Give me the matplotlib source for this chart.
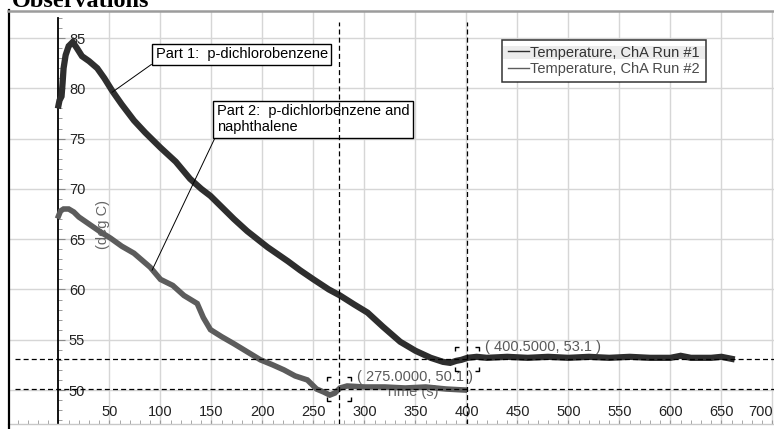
import matplotlib
matplotlib.use("Agg")
import matplotlib.pyplot as plt
from matplotlib.lines import Line2D
from matplotlib.patches import Rectangle
from matplotlib.path import Path
from matplotlib.ticker import MultipleLocator

plt.rcParams['font.family'] = ['Liberation Sans', 'DejaVu Sans']

# ---------------- data ----------------
run1_time = [0, 1, 3, 4, 5, 7, 10, 14, 18, 23, 30, 38, 45, 53, 62, 74, 85, 100,
             115, 129, 140, 149, 160, 172, 185, 205, 225, 237, 250, 265, 276, 290,
             303, 318, 335, 350, 365, 377, 384, 390, 395, 401, 410, 420, 440, 460,
             480, 500, 520, 540, 560, 580, 600, 610, 620, 640, 650, 660]
run1_temp = [78.3, 78.8, 79.2, 80.5, 82.0, 83.3, 84.2, 84.6, 84.0, 83.2, 82.7, 82.0,
             81.0, 79.7, 78.4, 76.8, 75.6, 74.1, 72.7, 71.0, 70.0, 69.3, 68.2, 67.0,
             65.8, 64.2, 62.8, 61.9, 61.0, 60.0, 59.4, 58.5, 57.7, 56.3, 54.8, 53.9,
             53.2, 52.8, 52.7, 52.9, 53.0, 53.2, 53.3, 53.2, 53.3, 53.2, 53.3, 53.2,
             53.3, 53.2, 53.3, 53.2, 53.2, 53.4, 53.2, 53.2, 53.3, 53.1]

run2_time = [0, 2, 5, 10, 15, 20, 30, 40, 51, 62, 74, 90, 100, 112, 123, 136, 142,
             149, 160, 172, 185, 198, 210, 221, 232, 244, 253, 260, 266, 271, 276,
             283, 300, 320, 340, 360, 380, 398]
run2_temp = [67.3, 67.8, 68.0, 68.0, 67.7, 67.2, 66.5, 65.8, 65.1, 64.3, 63.6, 62.2,
             61.0, 60.4, 59.4, 58.6, 57.2, 56.0, 55.3, 54.6, 53.8, 53.0, 52.5, 52.0,
             51.4, 51.0, 50.1, 49.8, 49.5, 49.7, 50.2, 50.4, 50.3, 50.3, 50.2, 50.3,
             50.1, 50.0]

series_labels = ["Temperature, ChA Run #1", "Temperature, ChA Run #2"]

xticks = [50, 100, 150, 200, 250, 300, 350, 400, 450, 500, 550, 600, 650, 700]
yticks = [50, 55, 60, 65, 70, 75, 80, 85]

cursor_points = [(275.0, 50.1), (400.5, 53.1)]
cursor_labels = ["( 275.0000, 50.1 )", "( 400.5000, 53.1 )"]

part1_text = "Part 1:  p-dichlorobenzene"
part1_xy = (52.5, 79.6)
part1_textpos = (95.2, 82.67)
part2_text = "Part 2:  p-dichlorbenzene and\nnaphthalene"
part2_xy = (91.7, 61.9)
part2_textpos = (155.0, 75.41)

title_text = "Observations"
x_label = "Time (s)"
y_label = "(deg C)"

# ---------------- figure ----------------
W, H = 774, 429
fig = plt.figure(figsize=(W / 100, H / 100), dpi=100)
ax = fig.add_axes([8 / W, 5 / H, 766 / W, 412 / H])
ax.set_xlim(-49.5, 701.5)
ax.set_ylim(46.62, 87.59)

FS = 10.5
c1 = '#2e2e2e'
c2 = '#5c5c5c'

# grid
ax.grid(True, which='major', color='#d6d6d6', lw=1.0, zorder=0)
ax.set_axisbelow(True)

# spines
ax.spines['top'].set_visible(False)
ax.spines['right'].set_visible(False)
ax.spines['left'].set_position(('data', 0))
ax.spines['left'].set_bounds(46.62, 87.0)
ax.spines['left'].set_color('black')
ax.spines['left'].set_linewidth(1.3)
ax.spines['bottom'].set_color('#c8c8c8')
ax.spines['bottom'].set_linewidth(1.0)

# ticks
ax.set_xticks(xticks)
ax.set_xticklabels([str(v) for v in xticks])
ax.xaxis.set_minor_locator(MultipleLocator(10))
ax.set_yticks(yticks)
ax.set_yticklabels([str(v) for v in yticks])
ax.yaxis.set_minor_locator(MultipleLocator(1))
ax.tick_params(axis='x', which='both', direction='in', length=3, color='#9a9a9a',
               labelsize=FS, pad=-14, labelcolor='#222222')
ax.tick_params(axis='y', which='major', direction='in', length=5, color='#8a8a8a',
               labelsize=FS, pad=-7.5, labelcolor='#222222')
ax.tick_params(axis='y', which='minor', direction='in', length=3, color='#8a8a8a')
for lab in ax.get_yticklabels():
    lab.set_horizontalalignment('left')
# last x label kept inside the frame
ax.get_xticklabels()[-1].set_horizontalalignment('right')

# axis labels (drawn inside, partly hidden)
ax.text(0.527, 0.078, x_label, transform=ax.transAxes, ha='center', va='center',
        fontsize=FS, color='#666666', zorder=1)
ax.text(0.124, 0.485, y_label, transform=ax.transAxes, ha='center', va='center',
        rotation=90, fontsize=FS, color='#666666', zorder=1)

# data
ax.plot(run1_time, run1_temp, color=c1, lw=4.5, zorder=3, solid_joinstyle='miter')
ax.plot(run2_time, run2_temp, color=c2, lw=4.0, zorder=3, solid_joinstyle='miter')

# cursor cross-hairs
dash = (0, (4, 2.5))
for (cx, cy) in cursor_points:
    ax.axvline(cx, ymax=0.976, color='black', lw=0.9, ls=dash, zorder=6)
    ax.axhline(cy, xmin=0.009, color='black', lw=0.9, ls=dash, zorder=6)

# bracket markers
a = 0.3
verts = [(-1, 1 - a), (-1, 1), (-1 + a, 1),
         (1 - a, 1), (1, 1), (1, 1 - a),
         (1, -1 + a), (1, -1), (1 - a, -1),
         (-1 + a, -1), (-1, -1), (-1, -1 + a)]
codes = [Path.MOVETO, Path.LINETO, Path.LINETO] * 4
bracket = Path(verts, codes)
for (cx, cy), lab in zip(cursor_points, cursor_labels):
    ax.plot([cx], [cy], marker=bracket, ms=17.3, mfc='none', mec='black', mew=1.0,
            ls='none', zorder=7)
    ax.annotate(lab, xy=(cx, cy), xytext=(13.3, 8.6), textcoords='offset points',
                ha='left', va='center', fontsize=FS, color='#5a5a5a', zorder=7)

# annotations
for txt, xy, pos in [(part1_text, part1_xy, part1_textpos),
                     (part2_text, part2_xy, part2_textpos)]:
    ax.annotate(txt, xy=xy, xytext=pos, textcoords='data', ha='left', va='bottom',
                fontsize=FS, color='black', zorder=5, linespacing=1.2,
                bbox=dict(boxstyle='square,pad=0.25', fc='white', ec='black', lw=1.0),
                arrowprops=dict(arrowstyle='-', color='black', lw=0.7, relpos=(0, 0),
                                shrinkA=0, shrinkB=0))

# legend
handles = [Line2D([], [], color=c1, lw=1.0), Line2D([], [], color=c2, lw=1.0)]
lx = (502 - 8) / 766
ly = (424 - 40) / 412
leg = ax.legend(handles, series_labels, loc='upper left', bbox_to_anchor=(lx, ly),
                borderaxespad=0, frameon=True, fancybox=False, edgecolor='black',
                facecolor='none', framealpha=None, fontsize=FS, handlelength=1.45,
                handletextpad=0.12, borderpad=0.38, labelspacing=0.2)
leg.get_frame().set_linewidth(1.1)
for t, c in zip(leg.get_texts(), ['#333333', '#4a4a4a']):
    t.set_color(c)
leg.set_zorder(8)

# outer frame and cut-off title
fig.add_artist(Line2D([9 / W, 9 / W], [0, 1 - 10 / H], transform=fig.transFigure,
                      color='black', lw=1.6))
fig.add_artist(Line2D([8 / W, 1], [1 - 10.5 / H, 1 - 10.5 / H], transform=fig.transFigure,
                      color='#9c9c9c', lw=1.8))
fig.text(12 / W, 1 - 7 / H, title_text, fontsize=17.5, fontweight='bold',
         family=['Liberation Serif', 'DejaVu Serif'], va='baseline', ha='left',
         color='black')

# legend background + highlighted first row (from the legend's own layout)
fig.canvas.draw()
bb = leg.get_frame().get_window_extent()
t0 = leg.get_texts()[0].get_window_extent()
ax.add_patch(Rectangle((bb.x0, bb.y0), bb.width, bb.height, transform=None,
                       fc='white', ec='none', zorder=7.8))
ax.add_patch(Rectangle((bb.x0 + 1, t0.y0 + 1), bb.width - 2, t0.height - 1,
                       transform=None, fc='#ececec', ec='none', zorder=7.9))

fig.savefig('out.png', dpi=100)
